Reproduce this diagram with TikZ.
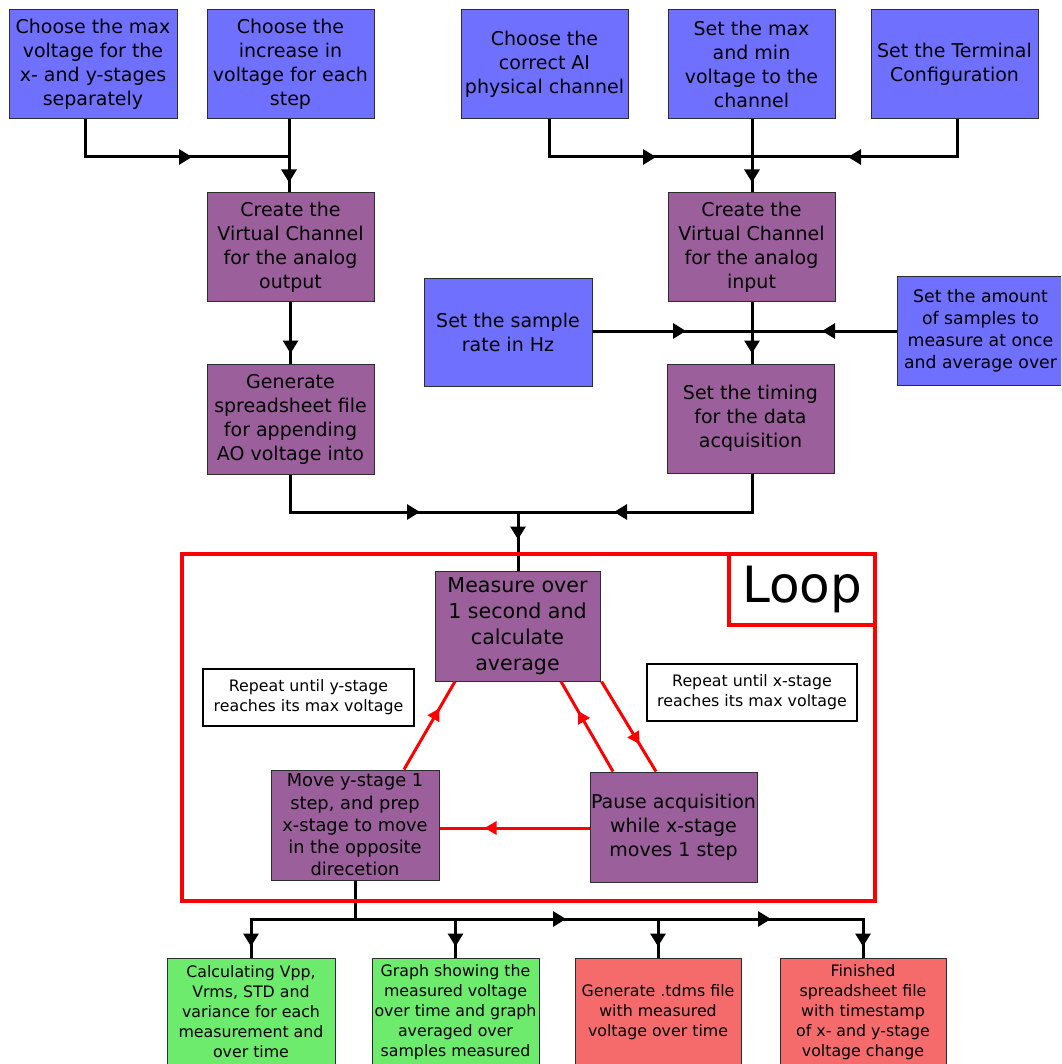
\documentclass[tikz,border=0pt]{standalone}
\usepackage{fontspec}
\setmainfont{DejaVu Sans}
\usetikzlibrary{arrows.meta,decorations.markings}
\definecolor{cblue}{RGB}{112,112,255}
\definecolor{cpurp}{RGB}{155,95,155}
\definecolor{cgreen}{RGB}{108,235,108}
\definecolor{csalmon}{RGB}{245,107,107}
\definecolor{cred}{RGB}{255,0,0}
\definecolor{cedge}{RGB}{45,45,45}
\tikzset{
  box/.style={draw=cedge, line width=1pt, inner sep=0pt, align=center, minimum width=168pt, minimum height=109pt, text=black},
  bluebox/.style={box, fill=cblue, font=\fontsize{19}{24}\selectfont},
  purpbox/.style={box, fill=cpurp, font=\fontsize{19}{24}\selectfont},
  greenbox/.style={box, fill=cgreen, font=\fontsize{15.8}{20}\selectfont, minimum height=108pt},
  salbox/.style={box, fill=csalmon, font=\fontsize{15.8}{20}\selectfont, minimum height=108pt},
  notebox/.style={draw=black, line width=1.5pt, fill=white, inner sep=0pt, align=center, font=\fontsize{15.8}{20}\selectfont},
  blk/.style={line width=3pt, draw=black},
  redln/.style={line width=3pt, draw=cred},
  arr/.style={postaction={decorate, decoration={markings, mark=at position #1 with {\arrow{Triangle[length=13pt,width=15pt]}}}}},
  rarr/.style={postaction={decorate, decoration={markings, mark=at position #1 with {\arrow{Triangle[length=12pt,width=13pt]}}}}},
  frame/.style={draw=cred, line width=4pt},
}
\begin{document}
\begin{tikzpicture}[x=1pt,y=-1pt]
\useasboundingbox (0,0) rectangle (1061,1064);
\clip (0,0) rectangle (1061,1064);
% top row
\node[bluebox] (A1) at (93,64.5) {Choose the max\\voltage for the\\x- and y-stages\\separately};
\node[bluebox, minimum width=167pt] (A2) at (290.5,64.5) {Choose the\\increase in\\voltage for each\\step};
\node[bluebox, minimum width=167pt] (B1) at (544.5,64.5) {Choose the\\correct AI\\physical channel};
\node[bluebox, minimum width=167pt] (B2) at (751.5,64.5) {Set the max\\and min\\voltage to the\\channel};
\node[bluebox, minimum width=167pt] (B3) at (954.5,64.5) {Set the Terminal\\Configuration};
% second level
\node[purpbox, minimum width=167pt, minimum height=108pt] (CAO) at (290.5,247) {Create the\\Virtual Channel\\for the analog\\output};
\node[purpbox, minimum width=167pt, minimum height=110pt] (GEN) at (290.5,419) {Generate\\spreadsheet file\\for appending\\AO voltage into};
\node[purpbox, minimum width=167pt, minimum height=108pt] (CAI) at (751.5,247) {Create the\\Virtual Channel\\for the analog\\input};
\node[bluebox, minimum height=107pt] (SR) at (508,332.5) {Set the sample\\rate in Hz};
\node[bluebox, minimum width=167pt, minimum height=108pt, font=\fontsize{17.3}{22}\selectfont] (AMT) at (980.5,331) {Set the amount\\of samples to\\measure at once\\and average over};
\node[purpbox, minimum width=167pt, minimum height=109pt] (TIM) at (750.5,418.5) {Set the timing\\for the data\\acquisition};
% loop content
\node[purpbox, minimum width=165pt, minimum height=110pt, font=\fontsize{20.6}{26}\selectfont] (MEAS) at (517.5,626) {Measure over\\1 second and\\calculate\\average};
\node[purpbox, minimum width=168pt, minimum height=110pt, font=\fontsize{17.8}{22.3}\selectfont] (MOVE) at (355,825) {Move y-stage 1\\step, and prep\\x-stage to move\\in the opposite\\direcetion};
\node[purpbox, minimum width=167pt, minimum height=110pt, font=\fontsize{19}{24}\selectfont] (PAUSE) at (673.5,827) {Pause acquisition\\while x-stage\\moves 1 step};
\node[notebox, minimum width=211pt, minimum height=57pt] (RY) at (308.5,697.5) {Repeat until y-stage\\reaches its max voltage};
\node[notebox, minimum width=210pt, minimum height=57pt] (RX) at (752,692.5) {Repeat until x-stage\\reaches its max voltage};
% bottom boxes
\node[greenbox, minimum width=168pt] (C1) at (251,1012) {Calculating Vpp,\\Vrms, STD and\\variance for each\\measurement and\\over time};
\node[greenbox, minimum width=167pt] (C2) at (455.5,1012) {Graph showing the\\measured voltage\\over time and graph\\averaged over\\samples measured};
\node[salbox, minimum width=166pt] (C3) at (658,1012) {Generate .tdms file\\with measured\\voltage over time};
\node[salbox, minimum width=166pt] (C4) at (863,1012) {Finished\\spreadsheet file\\with timestamp\\of x- and y-stage\\voltage change};
% junctions
\coordinate (j1) at (289,157);
\coordinate (j2) at (752,157);
\coordinate (j3) at (752,331);
\coordinate (j4) at (518,512);
\coordinate (j5) at (355,919);
% black connectors
\draw[blk, arr=-97pt] ([xshift=-8pt]A1.south) |- (j1);
\draw[blk, arr=-10pt] ([xshift=-1.5pt]A2.south) -- ([xshift=-1.5pt]CAO.north);
\draw[blk, arr=-10pt] (CAO.south) -- (GEN.north);
\draw[blk, arr=-96pt] ([xshift=4.5pt]B1.south) |- (j2);
\draw[blk, arr=-96pt] ([xshift=2.5pt]B3.south) |- (j2);
\draw[blk, arr=-10pt] ([xshift=0.5pt]B2.south) -- ([xshift=0.5pt]CAI.north);
\draw[blk, arr=-66pt] (SR.east |- j3) -- (j3);
\draw[blk, arr=-70pt] (AMT.west |- j3) -- (j3);
\draw[blk, arr=-10pt] ([xshift=0.5pt]CAI.south) -- ([xshift=1.5pt]TIM.north);
\draw[blk, arr=-98pt] (GEN.south) |- (j4);
\draw[blk, arr=-96pt] ([xshift=1.5pt]TIM.south) |- (j4);
\draw[blk, arr=-31pt] (j4) -- (MEAS.north -| j4);
\draw[blk] (MOVE.south) -- (j5);
\draw[blk, arr=-11pt] (j5) -| (C1.north);
\draw[blk, arr=-11pt] (j5) -| (C2.north);
\draw[blk, arr=211pt, arr=-11pt] (j5) -| (C3.north);
\draw[blk, arr=416pt, arr=-11pt] (j5) -| (C4.north);
% red connectors
\draw[redln, rarr=-31pt] ([xshift=49pt]MOVE.north) -- ([xshift=-62.5pt]MEAS.south);
\draw[redln, rarr=-34pt] ([xshift=-60.5pt]PAUSE.north) -- ([xshift=43.5pt]MEAS.south);
\draw[redln, rarr=-32pt] ([xshift=1pt]MEAS.south east) -- ([xshift=-17.5pt]PAUSE.north);
\draw[redln, rarr=-45pt] ([yshift=-1pt]PAUSE.west) -- ([yshift=-1pt]PAUSE.west -| MOVE.east);
% loop frame
\node[frame, minimum width=693pt, minimum height=347pt, inner sep=0pt] (loop) at (528.5,727.5) {};
\node[frame, fill=white, minimum width=146pt, minimum height=71pt, inner sep=0pt, font=\fontsize{50}{60}\selectfont] (lbl) at (802,589.5) {Loop};
\end{tikzpicture}
\end{document}
